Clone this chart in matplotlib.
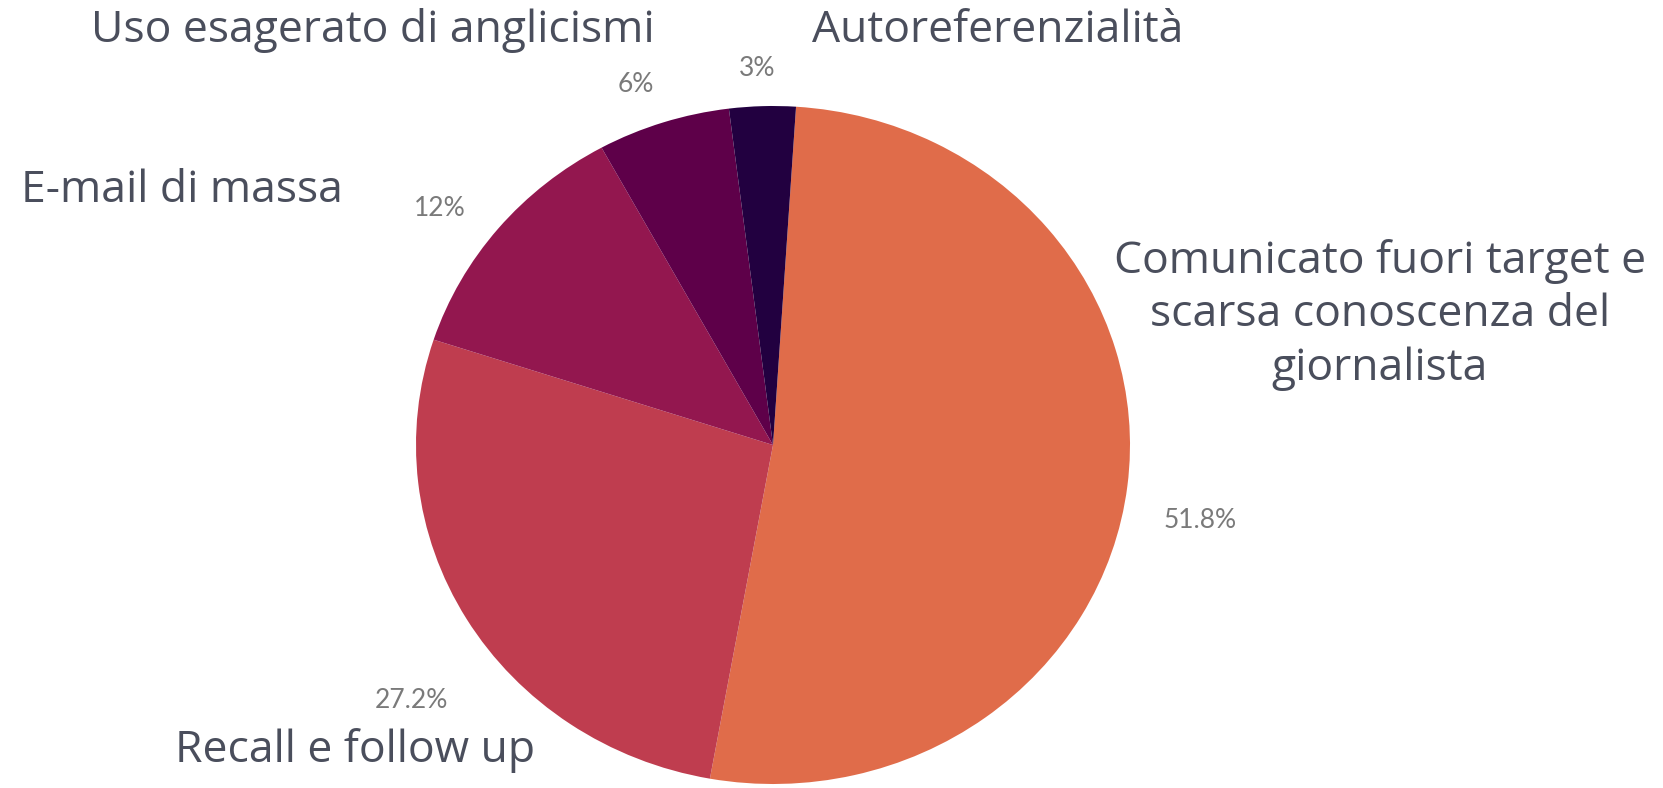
import matplotlib

matplotlib.use("Agg")

import matplotlib.pyplot as plt


# ==========================================================
# Data
# ==========================================================

categories = [
    "Comunicato fuori target e\nscarsa conoscenza del\ngiornalista",
    "Recall e follow up",
    "E-mail di massa",
    "Uso esagerato di anglicismi",
    "Autoreferenzialità",
]

shares = [51.8, 27.2, 12, 6, 3]

colors = [
    "#E06C4A",
    "#BF3D4F",
    "#93174F",
    "#5E0049",
    "#220040",
]

# label anchor positions in pixels (x from left, y from top)
label_pos = [
    (1380, 315, "center"),
    (355, 762, "baseline"),
    (182, 202, "baseline"),
    (373, 42, "baseline"),
    (998, 42, "baseline"),
]

pct_pos = [
    (1200, 520),
    (411, 700),
    (440, 208),
    (636, 84),
    (757, 69),
]


# ==========================================================
# Figure
# ==========================================================

W, H = 1663, 788

fig = plt.figure(figsize=(W / 100, H / 100), dpi=100)

ax = fig.add_axes([416 / W, 4 / H, 714 / W, 678 / H])

ax.pie(
    shares,
    colors=colors,
    startangle=86.3,
    counterclock=False,
)

ax.set_aspect("auto")
ax.set_xlim(-1, 1)
ax.set_ylim(-1, 1)

for text, (px, py, va) in zip(categories, label_pos):
    fig.text(
        px / W,
        1 - py / H,
        text,
        ha="center",
        va=va,
        fontsize=32,
        family="Open Sans",
        color="#4a4e5c",
        linespacing=1.28,
    )

for value, (px, py) in zip(shares, pct_pos):
    fig.text(
        px / W,
        1 - py / H,
        f"{value:g}%",
        ha="center",
        va="center",
        fontsize=19,
        family="Lato",
        color="#7a7a7a",
    )

fig.savefig("out.png", dpi=100)
